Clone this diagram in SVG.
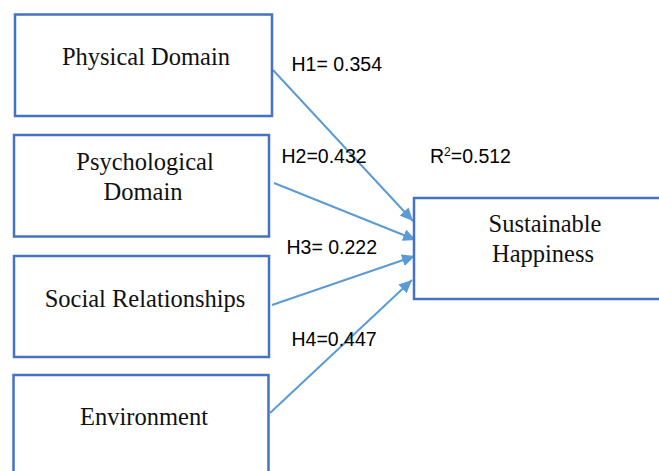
<svg xmlns="http://www.w3.org/2000/svg" width="659" height="471" viewBox="0 0 659 471">
<style>
.box{fill:#fff;stroke:#4472C4;stroke-width:2.5}
.nt{font-family:"Liberation Serif","Times New Roman",serif;font-size:24.5px;fill:#111;text-anchor:middle}
.lb{font-family:"Liberation Sans",Arial,sans-serif;font-size:19.5px;fill:#000}
.cn{stroke:#5B9BD5;stroke-width:2;fill:none;marker-end:url(#ah)}
</style>
<defs>
<marker id="ah" markerUnits="userSpaceOnUse" markerWidth="14" markerHeight="12" refX="13" refY="6" orient="auto">
<path d="M0,0 L13,6 L0,12 Z" fill="#5B9BD5"/>
</marker>
</defs>
<rect width="659" height="471" fill="#fff"/>
<g id="connectors">
<line class="cn" x1="273" y1="70" x2="413" y2="221"/>
<line class="cn" x1="274" y1="183" x2="416" y2="240"/>
<line class="cn" x1="272" y1="305" x2="415" y2="256"/>
<line class="cn" x1="270" y1="413" x2="412" y2="280"/>
</g>
<g id="physical">
<rect class="box" x="15" y="14.5" width="257" height="101.5"/>
<text class="nt" x="146" y="65">Physical Domain</text>
</g>
<g id="psychological">
<rect class="box" x="14" y="135" width="255" height="101.5"/>
<text class="nt" x="145" y="170">Psychological</text>
<text class="nt" x="143" y="200">Domain</text>
</g>
<g id="social">
<rect class="box" x="14" y="256" width="255" height="101"/>
<text class="nt" x="145" y="307">Social Relationships</text>
</g>
<g id="environment">
<rect class="box" x="13.5" y="375" width="255" height="110"/>
<text class="nt" x="144" y="425">Environment</text>
</g>
<g id="happiness">
<rect class="box" x="414" y="198" width="260" height="101"/>
<text class="nt" x="545" y="232">Sustainable</text>
<text class="nt" x="543" y="262">Happiness</text>
</g>
<g id="labels">
<text class="lb" x="291.5" y="71">H1= 0.354</text>
<text class="lb" x="281.5" y="163">H2=0.432</text>
<text class="lb" x="430" y="163">R<tspan font-size="12" dy="-7">2</tspan><tspan dy="7">=0.512</tspan></text>
<text class="lb" x="286.5" y="254">H3= 0.222</text>
<text class="lb" x="291.5" y="346">H4=0.447</text>
</g>
</svg>
